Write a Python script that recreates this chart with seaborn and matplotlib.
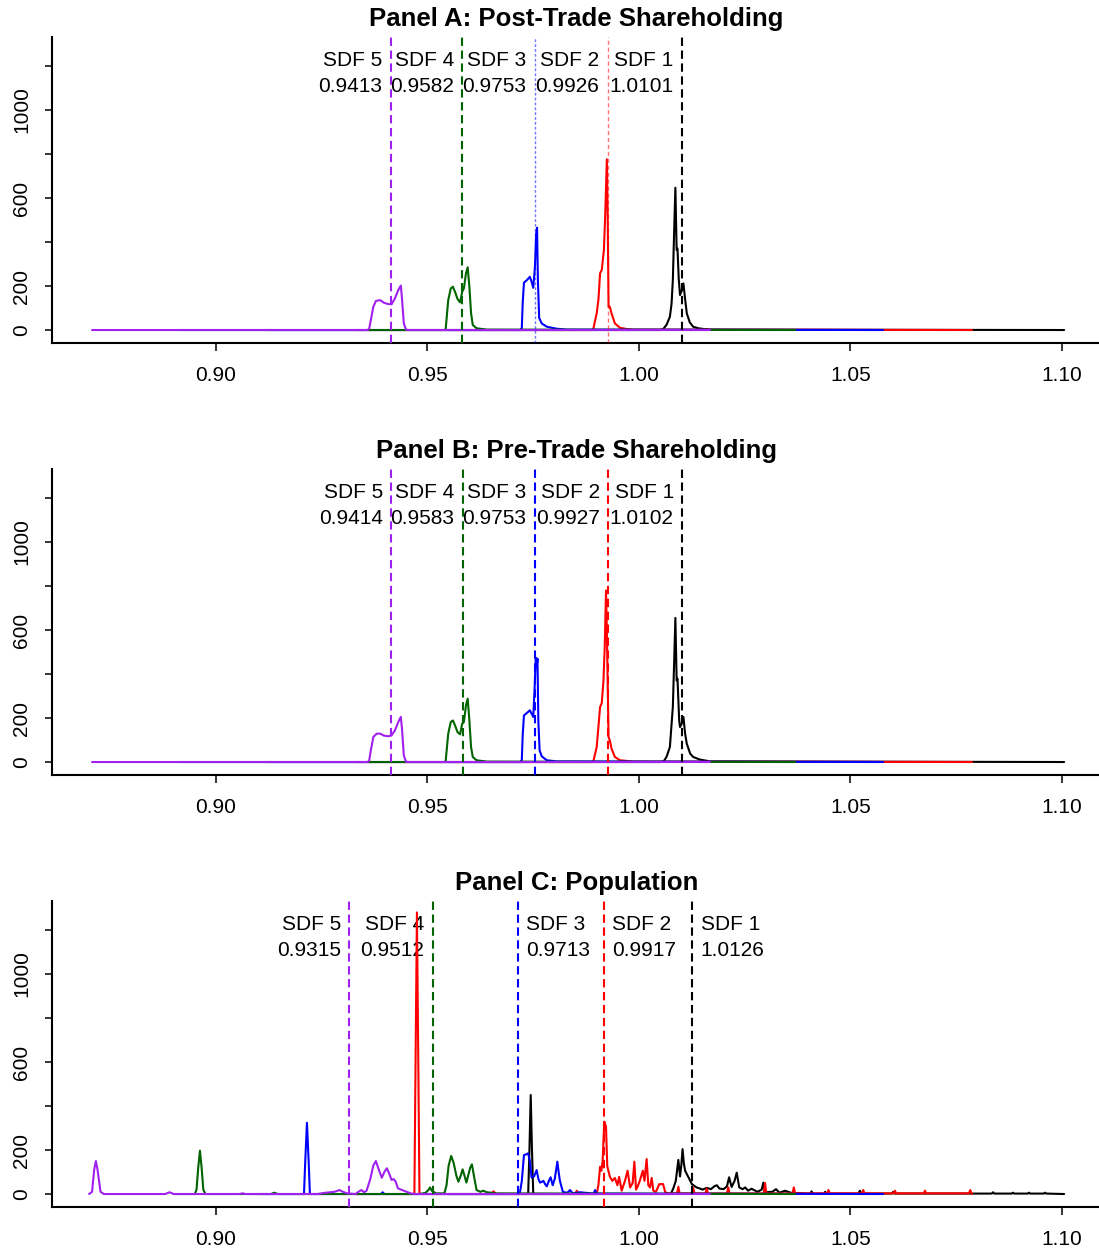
import matplotlib
matplotlib.use("Agg")
import matplotlib.pyplot as plt
import pandas as pd
import seaborn as sns

# --- chart values ---
SDF_NAMES = ["SDF 1", "SDF 2", "SDF 3", "SDF 4", "SDF 5"]
SDF_COLORS = ["#000000", "#FF0000", "#0000FF", "#006400", "#A020F0"]
PANEL_TITLES = ["Panel A: Post-Trade Shareholding",
                "Panel B: Pre-Trade Shareholding",
                "Panel C: Population"]
X_TICKS = [0.90, 0.95, 1.00, 1.05, 1.10]
X_TICK_LABELS = ["0.90", "0.95", "1.00", "1.05", "1.10"]
Y_TICKS = [0, 200, 400, 600, 800, 1000, 1200]
Y_TICK_LABELS = ["0", "200", "", "600", "", "1000", ""]

# vertical reference lines (SDF 1..5)
A_MEANS = [1.0101, 0.9926, 0.9753, 0.9582, 0.9413]
B_MEANS = [1.0102, 0.9927, 0.9753, 0.9583, 0.9414]
C_MEANS = [1.0126, 0.9917, 0.9713, 0.9512, 0.9315]
# label on the left (-1) or right (+1) of each line
A_SIDES = [-1, -1, -1, -1, -1]
B_SIDES = [-1, -1, -1, -1, -1]
C_SIDES = [1, 1, 1, -1, -1]

# ---- Panel A densities ----
A1_X = [0.955, 1.0050, 1.0057, 1.0065, 1.0073, 1.0077, 1.0080, 1.0083, 1.0086, 1.0089,
        1.0091, 1.0094, 1.0097, 1.0101, 1.0105, 1.0109, 1.0113, 1.0120, 1.0128, 1.0140,
        1.0155, 1.0170, 1.1005]
A1_Y = [0, 0, 4, 23, 60, 120, 227, 440, 647, 364, 370, 230, 159, 180, 212, 140, 76, 35,
        15, 8, 4, 2, 0]
A2_X = [0.933, 0.9888, 0.9892, 0.9900, 0.9904, 0.9908, 0.9912, 0.9917, 0.9920, 0.9924,
        0.9926, 0.9928, 0.9931, 0.9935, 0.9943, 0.9955, 0.9970, 0.9987, 1.0787]
A2_Y = [0, 0, 5, 76, 136, 258, 273, 364, 515, 776, 515, 106, 106, 76, 30, 10, 5, 2, 0]
A3_X = [0.912, 0.9720, 0.9723, 0.9725, 0.9728, 0.9735, 0.9742, 0.9746, 0.9750, 0.9754,
        0.9757, 0.9759, 0.9761, 0.9764, 0.9770, 0.9782, 0.9805, 0.9829, 1.0577]
A3_Y = [0, 0, 10, 120, 215, 227, 242, 220, 192, 288, 440, 465, 227, 55, 30, 15, 6, 2, 0]
A4_X = [0.891, 0.9540, 0.9543, 0.9549, 0.9555, 0.9560, 0.9565, 0.9571, 0.9577, 0.9582,
        0.9586, 0.9591, 0.9595, 0.9599, 0.9603, 0.9607, 0.9616, 0.9640, 1.0369]
A4_Y = [0, 0, 5, 136, 189, 197, 174, 141, 126, 174, 189, 258, 285, 197, 76, 23, 8, 2, 0]
A5_X = [0.8707, 0.9358, 0.9362, 0.9366, 0.9372, 0.9378, 0.9388, 0.9397, 0.9407, 0.9415,
        0.9423, 0.9431, 0.9437, 0.9440, 0.9444, 0.9449, 0.9453, 1.0168]
A5_Y = [0, 0, 5, 45, 106, 132, 136, 124, 118, 117, 144, 182, 202, 136, 30, 3, 0, 0]

# ---- Panel B densities ----
B1_X = [0.955, 1.0050, 1.0058, 1.0065, 1.0073, 1.0080, 1.0083, 1.0086, 1.0089, 1.0091,
        1.0095, 1.0097, 1.0101, 1.0105, 1.0109, 1.0113, 1.0121, 1.0128, 1.0144, 1.0168,
        1.1005]
B1_Y = [0, 0, 2, 23, 68, 250, 447, 655, 371, 379, 189, 159, 174, 205, 129, 83, 38, 23,
        11, 3, 0]
B2_X = [0.933, 0.9888, 0.9892, 0.9900, 0.9904, 0.9908, 0.9912, 0.9916, 0.9919, 0.9922,
        0.9924, 0.9928, 0.9931, 0.9935, 0.9943, 0.9955, 0.9987, 1.0787]
B2_Y = [0, 0, 3, 68, 159, 250, 268, 371, 523, 780, 598, 114, 98, 61, 23, 8, 2, 0]
B3_X = [0.912, 0.9720, 0.9723, 0.9725, 0.9728, 0.9735, 0.9742, 0.9746, 0.9750, 0.9753,
        0.9756, 0.9758, 0.9760, 0.9762, 0.9765, 0.9770, 0.9782, 0.9805, 1.0577]
B3_Y = [0, 0, 10, 120, 212, 223, 235, 220, 205, 326, 474, 432, 470, 189, 53, 26, 8, 3, 0]
B4_X = [0.891, 0.9540, 0.9543, 0.9549, 0.9555, 0.9560, 0.9565, 0.9571, 0.9577, 0.9582,
        0.9586, 0.9591, 0.9595, 0.9599, 0.9603, 0.9607, 0.9616, 0.9640, 1.0369]
B4_Y = [0, 0, 5, 129, 182, 189, 167, 136, 126, 174, 182, 258, 288, 189, 68, 23, 8, 2, 0]
B5_X = [0.8707, 0.9358, 0.9362, 0.9366, 0.9372, 0.9380, 0.9388, 0.9397, 0.9407, 0.9415,
        0.9423, 0.9431, 0.9437, 0.9440, 0.9444, 0.9449, 0.9453, 1.0168]
B5_Y = [0, 0, 5, 53, 114, 129, 129, 120, 117, 121, 144, 182, 205, 144, 30, 2, 0, 0]

# ---- Panel C densities ----
C1_X = [0.9550, 0.9738, 0.9741, 0.9744, 0.9747, 0.9750, 1.0075, 1.0081, 1.0087, 1.0093,
        1.0097, 1.0100, 1.0103, 1.0106, 1.0109, 1.0117, 1.0125, 1.0136, 1.0144, 1.0150,
        1.0160, 1.0170, 1.0178, 1.0184, 1.0190, 1.0200, 1.0208, 1.0213, 1.0219, 1.0226,
        1.0231, 1.0237, 1.0245, 1.0251, 1.0258, 1.0266, 1.0280, 1.0290, 1.0294, 1.0298,
        1.0315, 1.0324, 1.0332, 1.0345, 1.0360, 1.0405, 1.0408, 1.0411, 1.0437, 1.0440,
        1.0443, 1.0519, 1.0522, 1.0525, 1.0598, 1.0601, 1.0604, 1.0834, 1.0837, 1.0840,
        1.0881, 1.0884, 1.0887, 1.0919, 1.0922, 1.0925, 1.0957, 1.0960, 1.0963, 1.1005]
C1_Y = [0, 0, 200, 450, 200, 0, 0, 25, 60, 155, 80, 130, 204, 140, 106, 76, 45, 30, 25,
        20, 28, 22, 35, 40, 25, 22, 35, 76, 32, 60, 97, 30, 22, 30, 15, 24, 10, 20, 52, 8,
        10, 22, 6, 15, 5, 2, 12, 2, 2, 10, 2, 2, 15, 2, 2, 10, 2, 2, 8, 2,
        2, 6, 2, 2, 6, 2, 2, 6, 2, 0]
C2_X = [0.9330, 0.9469, 0.9472, 0.9475, 0.9478, 0.9481, 0.9650, 0.9656, 0.9662, 0.9849,
        0.9853, 0.9857, 0.9900, 0.9904, 0.9908, 0.9911, 0.9914, 0.9918, 0.9922, 0.9925,
        0.9931, 0.9937, 0.9943, 0.9949, 0.9953, 0.9959, 0.9967, 0.9973, 0.9979, 0.9985,
        0.9989, 0.9993, 0.9997, 1.0002, 1.0009, 1.0013, 1.0018, 1.0022, 1.0026, 1.0030,
        1.0034, 1.0040, 1.0048, 1.0057, 1.0062, 1.0070, 1.0090, 1.0093, 1.0096, 1.0125,
        1.0128, 1.0131, 1.0157, 1.0160, 1.0163, 1.0208, 1.0211, 1.0214, 1.0295, 1.0298,
        1.0301, 1.0363, 1.0366, 1.0369, 1.0445, 1.0448, 1.0451, 1.0527, 1.0530, 1.0533,
        1.0602, 1.0605, 1.0608, 1.0673, 1.0676, 1.0679, 1.0780, 1.0783, 1.0787]
C2_Y = [0, 0, 650, 1280, 650, 0, 0, 12, 0, 0, 15, 0, 0, 40, 124, 106, 150, 329, 306,
        127, 79, 60, 73, 40, 78, 15, 61, 106, 30, 50, 147, 20, 35, 61, 106, 60, 159, 40,
        30, 73, 15, 10, 45, 45, 8, 3, 3, 33, 3, 3, 30, 3, 3, 25, 3, 3, 30, 3, 3, 50,
        3, 3, 30, 3, 3, 18, 3, 3, 18, 3, 3, 15, 3, 3, 15, 3, 3, 18, 0]
C3_X = [0.9100, 0.9208, 0.9211, 0.9215, 0.9219, 0.9222, 0.9390, 0.9394, 0.9398, 0.9718,
        0.9723, 0.9728, 0.9733, 0.9738, 0.9742, 0.9746, 0.9752, 0.9758, 0.9762, 0.9766,
        0.9770, 0.9774, 0.9778, 0.9782, 0.9787, 0.9791, 0.9796, 0.9801, 0.9807, 0.9810,
        0.9813, 0.9820, 0.9830, 0.9837, 0.9843, 0.9860, 0.9893, 0.9896, 0.9900, 1.0577]
C3_Y = [0, 0, 150, 324, 150, 0, 0, 8, 0, 0, 60, 177, 180, 185, 150, 75, 80, 109, 70,
        52, 55, 60, 45, 35, 60, 76, 40, 70, 147, 100, 60, 10, 5, 18, 3, 8, 2, 18, 2, 0]
C4_X = [0.8900, 0.8950, 0.8954, 0.8958, 0.8962, 0.8966, 0.8970, 0.8975, 0.9130, 0.9138,
        0.9146, 0.9480, 0.9495, 0.9502, 0.9506, 0.9510, 0.9520, 0.9540, 0.9545, 0.9550,
        0.9556, 0.9562, 0.9568, 0.9573, 0.9578, 0.9583, 0.9588, 0.9592, 0.9597, 0.9601,
        0.9605, 0.9610, 0.9616, 0.9625, 0.9632, 0.9640, 0.9650, 0.9660, 1.0369]
C4_Y = [0, 0, 20, 120, 197, 120, 20, 0, 0, 6, 0, 0, 5, 18, 30, 15, 3, 3, 40, 130, 173,
        140, 85, 56, 80, 112, 80, 52, 90, 120, 135, 80, 18, 10, 15, 8, 6, 3, 0]
C5_X = [0.8700, 0.8707, 0.8712, 0.8716, 0.8720, 0.8727, 0.8735, 0.8880, 0.8890, 0.8900,
        0.9055, 0.9063, 0.9070, 0.9240, 0.9255, 0.9270, 0.9280, 0.9292, 0.9300, 0.9310,
        0.9330, 0.9338, 0.9344, 0.9350, 0.9356, 0.9365, 0.9372, 0.9378, 0.9385, 0.9392,
        0.9398, 0.9404, 0.9410, 0.9415, 0.9420, 0.9425, 0.9430, 0.9440, 0.9451, 0.9460,
        0.9468, 1.0168]
C5_Y = [0, 10, 110, 150, 110, 10, 0, 0, 8, 0, 0, 3, 0, 0, 5, 8, 10, 18, 10, 3, 0, 12,
        18, 8, 15, 70, 130, 150, 110, 74, 100, 117, 90, 64, 68, 55, 26, 18, 10, 3, 0, 0]

PANELS = [
    ([(A1_X, A1_Y), (A2_X, A2_Y), (A3_X, A3_Y), (A4_X, A4_Y), (A5_X, A5_Y)], A_MEANS, A_SIDES),
    ([(B1_X, B1_Y), (B2_X, B2_Y), (B3_X, B3_Y), (B4_X, B4_Y), (B5_X, B5_Y)], B_MEANS, B_SIDES),
    ([(C1_X, C1_Y), (C2_X, C2_Y), (C3_X, C3_Y), (C4_X, C4_Y), (C5_X, C5_Y)], C_MEANS, C_SIDES),
]

sns.set_theme(style="ticks", rc={"text.color": "black", "axes.labelcolor": "black",
                                 "xtick.color": "black", "ytick.color": "black",
                                 "axes.edgecolor": "black"})
plt.rcParams["font.family"] = ["Liberation Sans", "DejaVu Sans"]

W, H = 1099, 1253
fig = plt.figure(figsize=(W / 100, H / 100), dpi=100)

for i, (curves, means, sides) in enumerate(PANELS):
    top_px = 37 + 432 * i
    ax = fig.add_axes([52 / W, 1 - (top_px + 306) / H, (W - 52) / W, 306 / H])

    rows = []
    for name, (xs, ys) in zip(SDF_NAMES, curves):
        rows.append(pd.DataFrame({"sdf": name, "x": xs, "y": ys}))
    df = pd.concat(rows, ignore_index=True)

    sns.lineplot(data=df, x="x", y="y", hue="sdf", hue_order=SDF_NAMES,
                 palette=SDF_COLORS, estimator=None, sort=False, legend=False,
                 linewidth=1.5, ax=ax, zorder=3)

    for k, (m, side, col) in enumerate(zip(means, sides, SDF_COLORS)):
        lw, alpha, dash = 1.5, 1.0, (4, 2.2)
        if i == 0 and k in (1, 2):
            # these two lines render faint in the original
            lw, alpha, dash = 1.0, 0.55, (3, 2) if k == 1 else (2, 1.5)
        ax.axvline(m, color=col, lw=lw, alpha=alpha, dashes=dash, zorder=4)
        ha = "right" if side < 0 else "left"
        off = 6 * side
        ax.annotate(SDF_NAMES[k], xy=(m, 1200), xytext=(off, 0),
                    textcoords="offset points", ha=ha, va="baseline",
                    fontsize=15, color="black", zorder=2)
        ax.annotate(f"{m:.4f}", xy=(m, 1083), xytext=(off, 0),
                    textcoords="offset points", ha=ha, va="baseline",
                    fontsize=15, color="black", zorder=2)

    ax.set_xlim(0.86123, 1.108747)
    ax.set_ylim(-59, 1332)
    ax.set_xticks(X_TICKS)
    ax.set_xticklabels(X_TICK_LABELS)
    ax.set_yticks(Y_TICKS)
    ax.set_yticklabels(Y_TICK_LABELS, rotation=90, va="center")
    ax.set_xlabel("")
    ax.set_ylabel("")
    ax.tick_params(axis="both", length=5.4, width=1.1, labelsize=15,
                   direction="out", colors="black")
    ax.tick_params(axis="x", pad=11)
    ax.tick_params(axis="y", pad=9.5)
    for s in ["top", "right"]:
        ax.spines[s].set_visible(False)
    for s in ["left", "bottom"]:
        ax.spines[s].set_linewidth(1.5)
        ax.spines[s].set_color("black")
    ax.set_facecolor("white")

    fig.text(576.5 / W, 1 - (26 + 432 * i) / H, PANEL_TITLES[i], ha="center",
             va="baseline", fontsize=18.5, fontweight="bold", color="black")

fig.savefig("out.png", dpi=100, facecolor="white")
